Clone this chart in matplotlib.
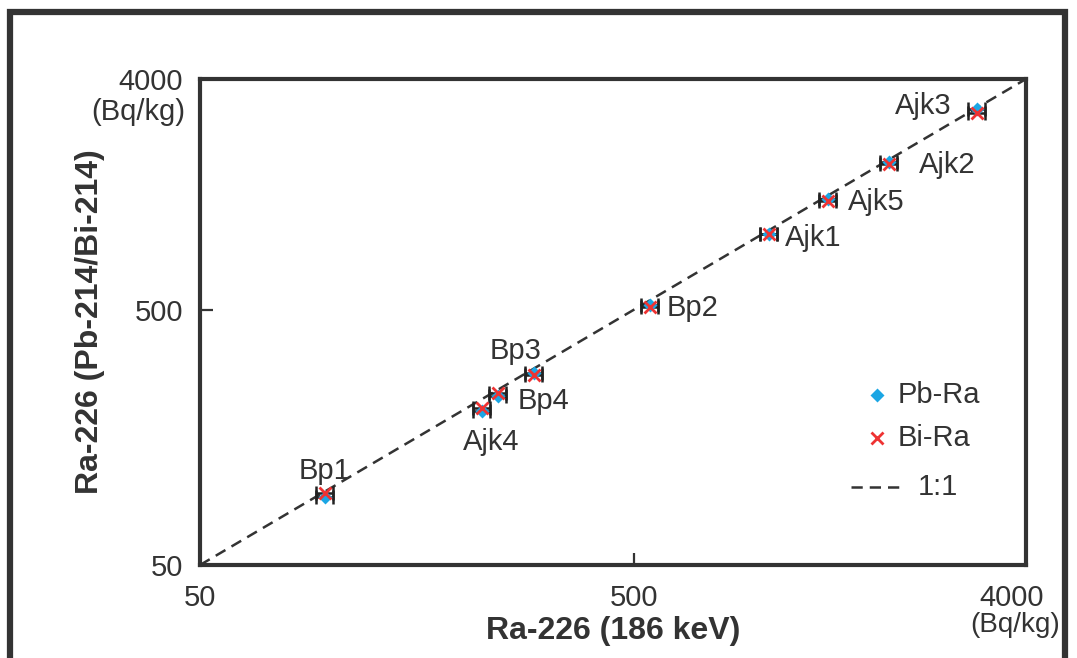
import numpy as np
import matplotlib
matplotlib.use("Agg")
import matplotlib.pyplot as plt
from matplotlib.lines import Line2D
from matplotlib.transforms import ScaledTranslation

plt.rcParams["font.family"] = ["Liberation Sans", "DejaVu Sans"]
INK = "#333333"
BLUE = "#1ba6e4"
RED = "#ee3333"

# sample names and activities (Bq/kg)
names = ["Bp1", "Ajk4", "Bp4", "Bp3", "Bp2", "Ajk1", "Ajk5", "Ajk2", "Ajk3"]
ra186 = [97, 223, 243, 294, 544, 1023, 1400, 1935, 3087]
pb_ra = [92, 201, 229, 282, 520, 990, 1350, 1890, 3060]
bi_ra = [96, 206, 235, 278, 512, 985, 1335, 1860, 2940]
xerr_frac = 0.045
# label offsets in pixels (dx, dy)
offs = {"Bp1": (0, 26), "Ajk4": (9, -31), "Bp4": (45, -5), "Bp3": (-18, 22),
        "Bp2": (43, -3), "Ajk1": (44, -4), "Ajk5": (48, -3), "Ajk2": (58, -3),
        "Ajk3": (-54, 3)}
DASH = (4.5, 2.8)

fig = plt.figure(figsize=(10.77, 6.58), dpi=100)
ax = fig.add_axes([200/1077, 1-565/658, 826/1077, 486/658])

x = np.array(ra186, float)
xe = x * xerr_frac
for yv in (pb_ra, bi_ra):
    ax.errorbar(x, yv, xerr=xe, fmt="none", ecolor="#222222", elinewidth=1.8,
                capsize=5, capthick=1.8, zorder=2)
ax.plot(x, pb_ra, "D", color=BLUE, ms=7, mec="none", zorder=3)
ax.plot(x, bi_ra, "x", color=RED, ms=8, mew=2, zorder=4)
ax.plot([50, 4000], [50, 4000], color=INK, lw=1.8, dashes=DASH, zorder=1)

for n, xi, yi in zip(names, ra186, pb_ra):
    ax.annotate(n, (xi, yi), xytext=offs[n], textcoords="offset pixels",
                ha="center", va="center", fontsize=21, color=INK)

ax.set_xscale("log"); ax.set_yscale("log")
ax.set_xlim(50, 4000); ax.set_ylim(50, 4000)
ax.minorticks_off()
ax.set_xticks([50, 500, 4000]); ax.set_xticklabels(["50", "500", "4000"])
ax.set_yticks([50, 500, 4000]); ax.set_yticklabels(["50", "500", "4000"])
ax.tick_params(direction="in", length=9, width=1.6, color=INK, labelsize=21, labelcolor=INK)
ax.tick_params(axis="x", pad=13.5)
ax.tick_params(axis="y", pad=12)
last = ax.get_xticklabels()[-1]
last.set_transform(last.get_transform() + ScaledTranslation(-0.14, 0, fig.dpi_scale_trans))
ax.text(-0.018, 0.932, "(Bq/kg)", transform=ax.transAxes, ha="right", va="center",
        fontsize=21, color=INK)
ax.text(0.987, -0.123, "(Bq/kg)", transform=ax.transAxes, ha="center", va="center",
        fontsize=20, color=INK, clip_on=False)
for s in ax.spines.values():
    s.set_linewidth(3); s.set_color(INK)

ax.set_xlabel("Ra-226 (186 keV)", fontsize=23, fontweight="bold", color=INK, labelpad=3)
ax.set_ylabel("Ra-226 (Pb-214/Bi-214)", fontsize=23, fontweight="bold", color=INK, labelpad=10)

# legend drawn by hand to match the original layout
ax.plot([0.8196], [0.3498], "D", color=BLUE, ms=7, mec="none", transform=ax.transAxes)
ax.plot([0.8196], [0.2613], "x", color=RED, ms=8, mew=2, transform=ax.transAxes)
ax.plot([0.788, 0.852], [0.1605, 0.1605], color=INK, lw=1.8, dashes=DASH, transform=ax.transAxes)
for tx, ty, lab in [(0.845, 0.3498, "Pb-Ra"), (0.845, 0.2613, "Bi-Ra"), (0.869, 0.1605, "1:1")]:
    ax.text(tx, ty, lab, transform=ax.transAxes, ha="left", va="center", fontsize=21, color=INK)

# outer frame (top, left, right)
fig.add_artist(Line2D([10/1077, 10/1077, 1065/1077, 1065/1077], [0, 1-12/658, 1-12/658, 0],
                      transform=fig.transFigure, color=INK, lw=4.5, solid_joinstyle="miter"))

fig.savefig("out.png", dpi=100)
